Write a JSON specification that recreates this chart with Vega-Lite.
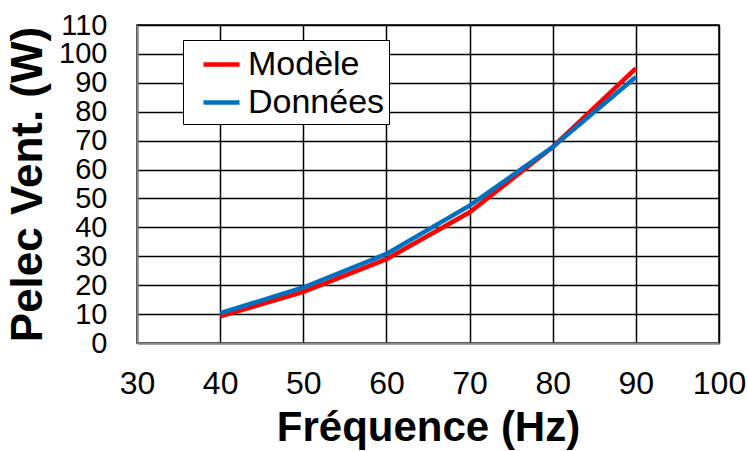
{
  "$schema": "https://vega.github.io/schema/vega-lite/v6.json",
  "width": 582,
  "height": 318,
  "autosize": {"type": "none"},
  "padding": {"left": 137, "top": 25, "right": 29, "bottom": 108},
  "background": "white",
  "config": {
    "font": "Liberation Sans",
    "view": {"stroke": "black", "strokeWidth": 1.5}
  },
  "data": {
    "values": [
      {"f": 40, "p": 9.2, "serie": "Modèle"},
      {"f": 50, "p": 17.7, "serie": "Modèle"},
      {"f": 60, "p": 29.0, "serie": "Modèle"},
      {"f": 70, "p": 45.2, "serie": "Modèle"},
      {"f": 80, "p": 67.8, "serie": "Modèle"},
      {"f": 90, "p": 95.0, "serie": "Modèle"},
      {"f": 40, "p": 10.3, "serie": "Données"},
      {"f": 50, "p": 19.2, "serie": "Données"},
      {"f": 60, "p": 30.8, "serie": "Données"},
      {"f": 70, "p": 47.5, "serie": "Données"},
      {"f": 80, "p": 67.8, "serie": "Données"},
      {"f": 90, "p": 92.0, "serie": "Données"}
    ]
  },
  "mark": {"type": "line", "strokeWidth": 4.5},
  "encoding": {
    "x": {
      "field": "f",
      "type": "quantitative",
      "scale": {"domain": [30, 100], "nice": false},
      "axis": {
        "title": "Fréquence (Hz)",
        "values": [30, 40, 50, 60, 70, 80, 90, 100],
        "labelFontSize": 32,
        "labelColor": "black",
        "labelPadding": 25,
        "labelFlush": false,
        "labelOverlap": false,
        "ticks": false,
        "domainColor": "#888888",
        "domainWidth": 2,
        "gridColor": "black",
        "gridWidth": 1.5,
        "gridOpacity": 1,
        "titleFontSize": 42,
        "titleFontWeight": "bold",
        "titleColor": "black",
        "titlePadding": 8
      }
    },
    "y": {
      "field": "p",
      "type": "quantitative",
      "scale": {"domain": [0, 110], "nice": false},
      "axis": {
        "title": "Pelec Vent. (W)",
        "values": [0, 10, 20, 30, 40, 50, 60, 70, 80, 90, 100, 110],
        "labelFontSize": 29,
        "labelColor": "black",
        "labelPadding": 30,
        "labelOverlap": false,
        "labelFlush": false,
        "ticks": false,
        "domainColor": "#888888",
        "domainWidth": 2,
        "gridColor": "black",
        "gridWidth": 1.5,
        "gridOpacity": 1,
        "titleFontSize": 44,
        "titleFontWeight": "bold",
        "titleColor": "black",
        "titlePadding": 8
      }
    },
    "color": {
      "field": "serie",
      "type": "nominal",
      "sort": ["Modèle", "Données"],
      "scale": {"domain": ["Modèle", "Données"], "range": ["#ff0000", "#0070c0"]},
      "legend": {
        "title": null,
        "orient": "none",
        "legendX": 46,
        "legendY": 15,
        "fillColor": "white",
        "strokeColor": "black",
        "padding": 4,
        "symbolType": "stroke",
        "symbolSize": 1296,
        "symbolStrokeWidth": 4.5,
        "symbolOffset": 14,
        "labelFontSize": 34,
        "labelColor": "black",
        "labelOffset": 6,
        "rowPadding": 0,
        "labelExpr": "datum.label + '     '"
      }
    }
  }
}
